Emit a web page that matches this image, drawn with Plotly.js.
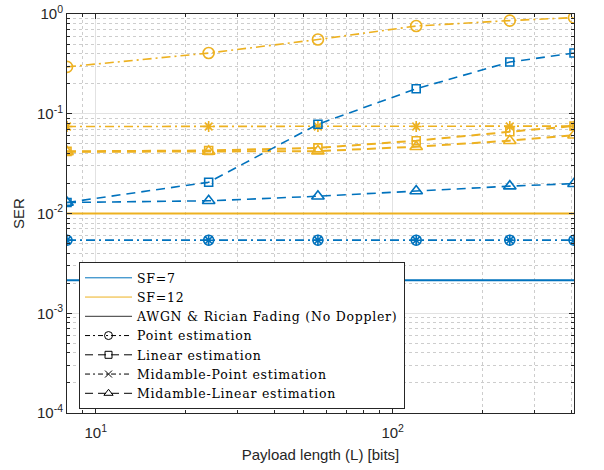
<!DOCTYPE html>
<html>
<head>
<meta charset="utf-8">
<script src="https://cdn.plot.ly/plotly-3.0.1.min.js"></script>
<style>
  html, body { margin: 0; padding: 0; background: #fff; }
  #chart { width: 604px; height: 470px; }
  .legendtext { letter-spacing: 0.75px; }
</style>
</head>
<body>
<div id="chart"></div>
<script>
// Payload lengths in bits
const payloadBits = [8, 24, 56, 120, 248, 408];

// SF = 7 results
const sf7Awgn = 0.00214;
const sf7Point = [0.0054, 0.0054, 0.0054, 0.0054, 0.0054, 0.0054];
const sf7Linear = [0.0129, 0.0206, 0.0785, 0.178, 0.330, 0.406];
const sf7MidPoint = [0.0054, 0.0054, 0.0054, 0.0054, 0.0054, 0.0054];
const sf7MidLinear = [0.0129, 0.0134, 0.0149, 0.0168, 0.0188, 0.0199];

// SF = 12 results
const sf12Awgn = 0.0100;
const sf12Point = [0.295, 0.406, 0.555, 0.758, 0.859, 0.920];
const sf12Linear = [0.0420, 0.0428, 0.0455, 0.0537, 0.0660, 0.0754];
const sf12MidPoint = [0.0745, 0.0745, 0.0745, 0.0745, 0.0745, 0.0752];
const sf12MidLinear = [0.0415, 0.0420, 0.0422, 0.0467, 0.0537, 0.0608];

// Axis ticks
const xTickVals = [10, 100];
const xTickText = ['10<sup>1</sup>', '10<sup>2</sup>'];
const yTickVals = [1e-4, 1e-3, 1e-2, 1e-1, 1];
const yTickText = ['10<sup>-4</sup>', '10<sup>-3</sup>', '10<sup>-2</sup>', '10<sup>-1</sup>', '10<sup>0</sup>'];

// Legend labels
const legendLabels = [
  'SF=7',
  'SF=12',
  'AWGN &amp; Rician Fading (No Doppler)',
  'Point estimation',
  'Linear estimation',
  'Midamble-Point estimation',
  'Midamble-Linear estimation'
];

const BLUE = '#0072BD';
const YELLOW = '#EDB120';
const DASH = '9px,6px';
const DASHDOT = '9px,4px,2px,4px';

// Minor tick positions for the log axes (2..9 within each decade)
const xMinor = [];
for (let d = 1; d <= 100; d *= 10) {
  for (let k = 2; k <= 9; k++) {
    const v = k * d;
    if (v >= 8 && v <= 408 && v !== 10 && v !== 100) xMinor.push(v);
  }
}
const yMinor = [];
for (let d = 1e-4; d < 1; d *= 10) {
  for (let k = 2; k <= 9; k++) yMinor.push(k * d);
}

function series(y, color, dash, symbol, size, width) {
  return {
    x: payloadBits, y: y, type: 'scatter', mode: 'lines+markers',
    showlegend: false, hoverinfo: 'skip',
    line: { color: color, dash: dash, width: width || 1.6 },
    marker: { symbol: symbol, size: size, color: color, line: { color: color, width: 1.6 } }
  };
}

function level(v, color) {
  const xs = [payloadBits[0], payloadBits[payloadBits.length - 1]];
  return {
    x: xs, y: [v, v], type: 'scatter', mode: 'lines',
    showlegend: false, hoverinfo: 'skip',
    line: { color: color, width: 2 }
  };
}

function legendEntry(name, color, dash, symbol, size) {
  const t = {
    x: [null], y: [null], type: 'scatter', name: name,
    mode: symbol ? 'lines+markers' : 'lines',
    line: { color: color, dash: dash || 'solid', width: 1 },
    hoverinfo: 'skip'
  };
  if (symbol) t.marker = { symbol: symbol, size: size, color: color, line: { color: color, width: 1 } };
  return t;
}

const traces = [
  level(sf7Awgn, BLUE),
  level(sf12Awgn, YELLOW),
  series(sf12Point, YELLOW, DASHDOT, 'circle-open', 11),
  series(sf12MidPoint, YELLOW, DASHDOT, 'asterisk-open', 9),
  series(sf12Linear, YELLOW, DASH, 'square-open', 8, 2),
  series(sf12MidLinear, YELLOW, DASH, 'triangle-up-open', 11, 2),
  series(sf7Point, BLUE, DASHDOT, 'circle-open', 10),
  series(sf7MidPoint, BLUE, DASHDOT, 'asterisk-open', 9),
  series(sf7Linear, BLUE, DASH, 'square-open', 8),
  series(sf7MidLinear, BLUE, DASH, 'triangle-up-open', 11),
  legendEntry(legendLabels[0], BLUE),
  legendEntry(legendLabels[1], YELLOW),
  legendEntry(legendLabels[2], '#333333'),
  legendEntry(legendLabels[3], '#000000', '5px,3px,2px,3px', 'circle-open', 8),
  legendEntry(legendLabels[4], '#000000', '8px,5px', 'square-open', 7),
  legendEntry(legendLabels[5], '#000000', '5px,3px,2px,3px', 'x-thin-open', 7),
  legendEntry(legendLabels[6], '#000000', '8px,5px', 'triangle-up-open', 8)
];

const AXIS = '#262626';
const commonAxis = {
  type: 'log',
  tickmode: 'array',
  ticks: 'inside', ticklen: 5, tickwidth: 1, tickcolor: AXIS,
  showline: true, linecolor: AXIS, linewidth: 1, mirror: 'ticks',
  showgrid: true, gridcolor: '#e2e2e2', gridwidth: 1,
  zeroline: false,
  tickfont: { family: 'Liberation Sans, Arial, sans-serif', size: 15, color: AXIS }
};

const layout = {
  width: 604, height: 470,
  margin: { l: 67, r: 30, t: 14, b: 57 },
  paper_bgcolor: '#ffffff', plot_bgcolor: '#ffffff',
  font: { family: 'Liberation Sans, Arial, sans-serif', size: 15, color: AXIS },
  showlegend: true,
  xaxis: Object.assign({}, commonAxis, {
    range: [Math.log10(payloadBits[0]), Math.log10(payloadBits[payloadBits.length - 1])],
    tickvals: xTickVals, ticktext: xTickText,
    ticklabelstandoff: 6,
    minor: { tickmode: 'array', tickvals: xMinor, ticks: 'inside', ticklen: 3, tickcolor: AXIS,
             showgrid: true, gridcolor: '#cdcdcd', griddash: 'dot', gridwidth: 1 },
    title: { text: 'Payload length (L) [bits]', font: { size: 15, color: AXIS }, standoff: 9 }
  }),
  yaxis: Object.assign({}, commonAxis, {
    range: [-4, 0],
    tickvals: yTickVals, ticktext: yTickText,
    minor: { tickmode: 'array', tickvals: yMinor, ticks: 'inside', ticklen: 3, tickcolor: AXIS,
             showgrid: true, gridcolor: '#cdcdcd', griddash: 'dot', gridwidth: 1 },
    title: { text: 'SER', font: { size: 15, color: AXIS }, standoff: 8 }
  }),
  legend: {
    x: 0.0237, y: 0.378, xanchor: 'left', yanchor: 'top',
    bgcolor: '#ffffff', bordercolor: AXIS, borderwidth: 1,
    font: { family: 'DejaVu Serif, Liberation Serif, serif', size: 12.5, color: '#000' },
    tracegroupgap: 0, itemwidth: 47, traceorder: 'normal'
  }
};

Plotly.newPlot('chart', traces, layout, { staticPlot: true, displayModeBar: false });
</script>
</body>
</html>
